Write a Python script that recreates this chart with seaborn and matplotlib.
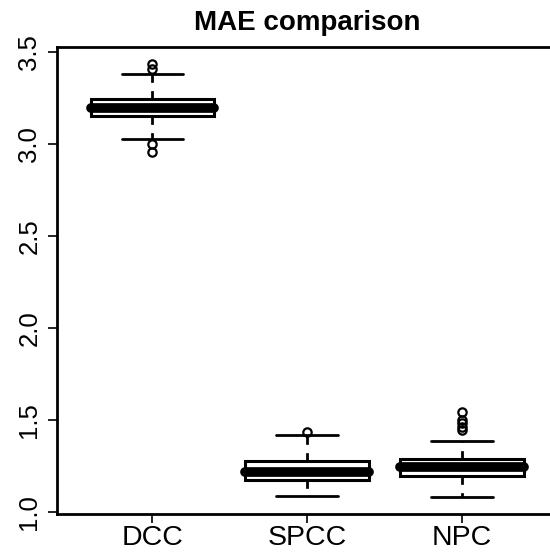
import numpy as np
import pandas as pd
import matplotlib
matplotlib.use("Agg")
import matplotlib.pyplot as plt
import seaborn as sns

# box summaries (lower whisker, Q1, median, Q3, upper whisker)
methods = ["DCC", "SPCC", "NPC"]
whisker_lo = [3.025, 1.086, 1.083]
q1 = [3.150, 1.175, 1.198]
median = [3.193, 1.216, 1.245]
q3 = [3.245, 1.275, 1.289]
whisker_hi = [3.377, 1.417, 1.388]
outliers = [
    [2.955, 2.998, 3.404, 3.431],
    [1.435],
    [1.447, 1.462, 1.484, 1.502, 1.541],
]
yticks = [1.0, 1.5, 2.0, 2.5, 3.0, 3.5]

# build per-method samples whose quartiles / whiskers reproduce the summaries
rows = []
for i, m in enumerate(methods):
    vals = outliers[i] + [whisker_lo[i], whisker_hi[i]]
    vals += [q1[i]] * 40 + [median[i]] * 40 + [q3[i]] * 40
    for v in vals:
        rows.append((m, v))
df = pd.DataFrame(rows, columns=["method", "mae"])

sns.set_style("white")
plt.rcParams["font.family"] = ["Liberation Sans", "DejaVu Sans"]
plt.rcParams["text.color"] = "black"

fig = plt.figure(figsize=(5.5, 5.57), dpi=100)
ax = fig.add_axes([0.103, 0.0772, 0.9107, 0.8384])

sns.boxplot(
    data=df, x="method", y="mae", order=methods, ax=ax,
    color="white", linecolor="black", linewidth=2, width=0.8, whis=1.5,
    boxprops=dict(facecolor="white", edgecolor="black", linewidth=2.2),
    whiskerprops=dict(color="black", linewidth=2, linestyle=(0, (3, 3))),
    capprops=dict(color="black", linewidth=2),
    medianprops=dict(color="black", linewidth=7, solid_capstyle="round"),
    flierprops=dict(marker="o", markerfacecolor="none", markeredgecolor="black",
                    markersize=6, markeredgewidth=1.6),
)

# R-style limits: data range padded by 4%
lo = min(whisker_lo + [min(o) for o in outliers])
hi = max(whisker_hi + [max(o) for o in outliers])
span = hi - lo
ax.set_ylim(lo - 0.04 * span, hi + 0.04 * span)
ax.set_xlim(-0.62, 2.62)

ax.set_yticks(yticks)
ax.set_yticklabels([f"{t:.1f}" for t in yticks], rotation=90, va="center")
ax.set_xlabel("")
ax.set_ylabel("")
ax.tick_params(axis="both", which="major", length=6.5, width=1.2,
               color="black", labelcolor="black", bottom=True, left=True)
ax.tick_params(axis="x", labelsize=20.5, pad=1.5)
ax.tick_params(axis="y", labelsize=18.5, pad=4.5)

for side in ["left", "top", "bottom"]:
    ax.spines[side].set_visible(True)
    ax.spines[side].set_color("black")
    ax.spines[side].set_linewidth(2)
ax.spines["right"].set_visible(False)

ax.set_title("MAE comparison", fontsize=20, fontweight="bold", color="black", pad=12)

fig.savefig("out.png", dpi=100)
